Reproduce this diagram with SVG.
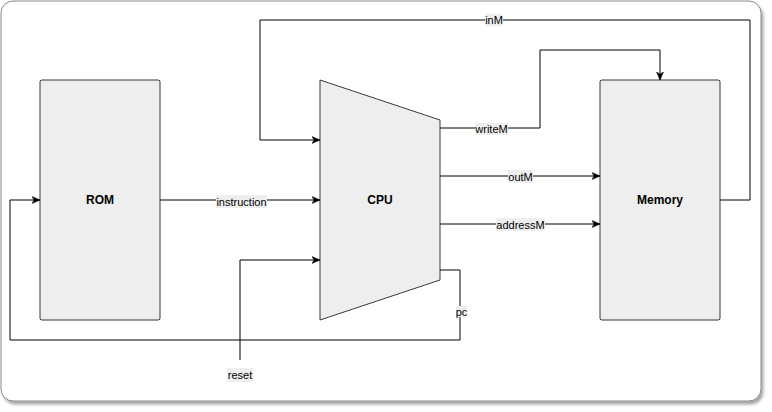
<svg xmlns="http://www.w3.org/2000/svg" width="772" height="412" viewBox="0 0 772 412">
<style>
.node{fill:#eeeeee;stroke:#36393d;stroke-width:1}
.title{font-family:"Liberation Sans",Arial,sans-serif;font-size:12px;font-weight:bold;fill:#000;text-anchor:middle;dominant-baseline:central}
.edge{fill:none;stroke:#000;stroke-width:1}
.lbg{fill:#eeeeee}
.lbl{font-family:"Liberation Sans",Arial,sans-serif;font-size:11px;fill:#000;text-anchor:middle;dominant-baseline:central}
</style>
<defs>
<marker id="arr" viewBox="0 0 8 8" refX="8" refY="4" markerWidth="8" markerHeight="8" markerUnits="userSpaceOnUse" orient="auto">
<path d="M0,0.5 L8,4 L0,7.5 L2,4 z" fill="#000" stroke="#000" stroke-width="0.5"/>
</marker>
<filter id="sh" x="-5%" y="-5%" width="110%" height="110%">
<feGaussianBlur in="SourceAlpha" stdDeviation="1.5"/>
<feOffset dx="2" dy="3"/>
<feComponentTransfer><feFuncA type="linear" slope="0.35"/></feComponentTransfer>
<feMerge><feMergeNode/><feMergeNode in="SourceGraphic"/></feMerge>
</filter>
</defs>
<g id="frame">
<rect x="1" y="1" width="760" height="400" rx="12" ry="12" fill="#fff" stroke="#888" stroke-width="1" filter="url(#sh)"/>
</g>
<g id="rom">
<rect class="node" x="40" y="80" width="120" height="240" rx="2" ry="2"/>
<text class="title" x="100" y="200">ROM</text>
</g>
<g id="cpu">
<path class="node" d="M320,80 L440,120 L440,280 L320,320 Z"/>
<text class="title" x="380" y="200">CPU</text>
</g>
<g id="memory">
<rect class="node" x="600" y="80" width="120" height="240" rx="2" ry="2"/>
<text class="title" x="660" y="200">Memory</text>
</g>
<g id="connectors">
<path class="edge" d="M160,200 L320,200" marker-end="url(#arr)"/>
<path class="edge" d="M240,360 L240,260 L320,260" marker-end="url(#arr)"/>
<path class="edge" d="M440,270 L460,270 L460,340 L10,340 L10,200 L40,200" marker-end="url(#arr)"/>
<path class="edge" d="M440,128 L540,128 L540,50 L660,50 L660,80" marker-end="url(#arr)"/>
<path class="edge" d="M440,176 L600,176" marker-end="url(#arr)"/>
<path class="edge" d="M440,224 L600,224" marker-end="url(#arr)"/>
<path class="edge" d="M720,200 L750,200 L750,20 L260,20 L260,140 L320,140" marker-end="url(#arr)"/>
<rect class="lbg" x="216" y="195" width="51" height="13"/>
<text class="lbl" x="241.5" y="201.5">instruction</text>
<rect class="lbg" x="227" y="368" width="26" height="14"/>
<text class="lbl" x="240" y="375">reset</text>
<rect class="lbg" x="456" y="306" width="11" height="11"/>
<text class="lbl" x="461.5" y="311.5">pc</text>
<rect class="lbg" x="475" y="123" width="33" height="12"/>
<text class="lbl" x="491.5" y="129">writeM</text>
<rect class="lbg" x="508" y="170" width="25" height="13"/>
<text class="lbl" x="520.5" y="176.5">outM</text>
<rect class="lbg" x="496" y="218" width="49" height="13"/>
<text class="lbl" x="520.5" y="224.5">addressM</text>
<rect class="lbg" x="485" y="14" width="18" height="12"/>
<text class="lbl" x="494" y="20">inM</text>
</g>
</svg>
